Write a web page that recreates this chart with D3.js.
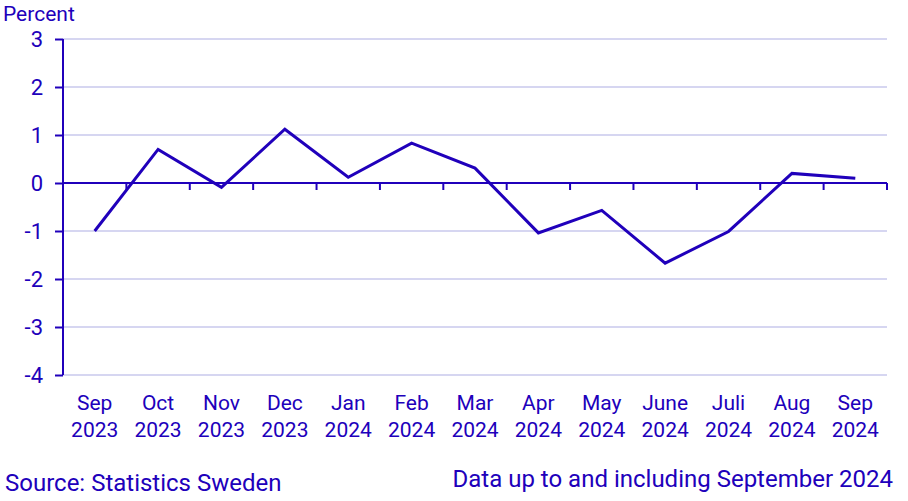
<!DOCTYPE html>
<html><head><meta charset="utf-8">
<script src="https://cdn.jsdelivr.net/npm/d3@7"></script>
<style>body{margin:0;background:#fff}text{font-family:Roboto,"Noto Sans",sans-serif}</style>
</head><body><svg id="c" width="908" height="501"></svg>
<script>
const months = ["Sep","Oct","Nov","Dec","Jan","Feb","Mar","Apr","May","June","Juli","Aug","Sep"];
const years = ["2023","2023","2023","2023","2024","2024","2024","2024","2024","2024","2024","2024","2024"];
const values = [-1.0,0.70,-0.09,1.12,0.12,0.83,0.31,-1.04,-0.57,-1.67,-1.01,0.20,0.10];
const yTicks = [3,2,1,0,-1,-2,-3,-4];
const col = "#2000bb", grid = "#c9c9ec";
const svg = d3.select("#c");
const cats = months.map((m,i)=>i);
const x = d3.scaleBand().domain(cats).range([63,887]);
const y = d3.scaleLinear().domain([-4,3]).range([375,39]);
// gridlines
svg.append("g").selectAll("line").data(yTicks.filter(d=>d!==0)).join("line")
  .attr("x1",63).attr("x2",887).attr("y1",d=>y(d)).attr("y2",d=>y(d))
  .attr("stroke",grid).attr("stroke-width",1.5);
// y axis
const ya = svg.append("g").attr("transform","translate(63,0)")
  .call(d3.axisLeft(y).tickValues(yTicks).tickSize(8).tickPadding(12).tickFormat(d=>String(d)));
ya.select(".domain").attr("stroke",col).attr("stroke-width",2).attr("d","M0,39V375");
ya.selectAll(".tick line").attr("stroke",col).attr("stroke-width",2);
ya.selectAll(".tick text").attr("fill",col).attr("font-size",22).attr("font-family","Roboto").attr("dy","0.36em");
// x axis at zero
const xa = svg.append("g").attr("transform",`translate(0,${y(0)})`);
xa.append("line").attr("x1",63).attr("x2",887).attr("stroke",col).attr("stroke-width",2);
const bounds = cats.slice(1).map(i=>x(i)).concat([887]);
xa.selectAll(".tk").data(bounds).join("line").attr("class","tk")
  .attr("x1",d=>d).attr("x2",d=>d).attr("y1",0).attr("y2",7).attr("stroke",col).attr("stroke-width",2);
// x labels
const lab = svg.append("g").selectAll("text").data(cats).join("text")
  .attr("x",d=>x(d)+x.bandwidth()/2).attr("text-anchor","middle").attr("fill",col).attr("font-size",21);
lab.append("tspan").attr("x",d=>x(d)+x.bandwidth()/2).attr("y",410).text(d=>months[d]);
lab.append("tspan").attr("x",d=>x(d)+x.bandwidth()/2).attr("y",437).text(d=>years[d]);
// line
const line = d3.line().x((d,i)=>x(i)+x.bandwidth()/2).y(d=>y(d));
svg.append("path").datum(values).attr("d",line).attr("fill","none").attr("stroke",col)
  .attr("stroke-width",3).attr("stroke-linejoin","miter");
// texts
svg.append("text").attr("x",3).attr("y",21).attr("fill",col).attr("font-size",21).text("Percent");
svg.append("text").attr("x",5).attr("y",491).attr("fill",col).attr("font-size",24).text("Source: Statistics Sweden");
svg.append("text").attr("x",893).attr("y",487).attr("text-anchor","end").attr("fill",col).attr("font-size",24).text("Data up to and including September 2024");
</script></body></html>
